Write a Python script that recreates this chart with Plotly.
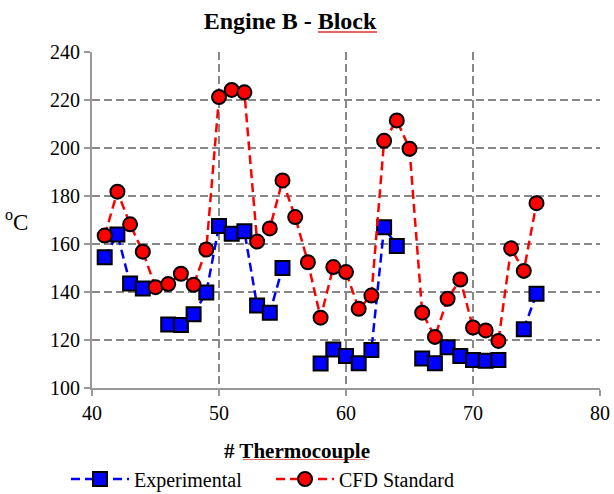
import plotly.graph_objects as go

thermocouple = list(range(41, 76))
experimental = [154.5, 164, 143.5, 141.5, None, 126.5, 126.2, 130.7, 139.8, 167.5,
                164.3, 165.3, 134.4, 131.4, 150, None, None, 110.2, 116, 113.3,
                110.3, 115.8, 167, 159.2, None, 112.3, 110.3, 117, 113.3, 111.7,
                111.4, 111.7, None, 124.5, 139.3]
cfd_standard = [163.5, 181.8, 168.2, 156.8, 142, 143.3, 147.6, 143, 157.7, 221.2,
                224.2, 223.2, 161, 166.5, 186.5, 171.2, 152.4, 129.3, 150.4, 148.3,
                133, 138.5, 203, 211.5, 199.7, 131.4, 121.3, 137.2, 145.2, 125.2,
                124, 119.6, 158.2, 148.8, 177]

serif = "Liberation Serif"

fig = go.Figure()
fig.add_trace(go.Scatter(
    x=thermocouple, y=experimental, name="Experimental", mode="lines+markers",
    connectgaps=False,
    line=dict(color="#0000ff", width=2.5, dash="9px,5px"),
    marker=dict(symbol="square", size=14, color="#0000ff", line=dict(color="black", width=2)),
))
fig.add_trace(go.Scatter(
    x=thermocouple, y=cfd_standard, name="CFD Standard", mode="lines+markers",
    line=dict(color="#ff0000", width=2.5, dash="9px,5px"),
    marker=dict(symbol="circle", size=14, color="#ff0000", line=dict(color="black", width=2)),
))

fig.update_layout(
    width=614, height=494,
    margin=dict(l=92, r=14, t=52, b=106, autoexpand=False),
    paper_bgcolor="white", plot_bgcolor="white",
    font=dict(family=serif, size=18, color="black"),
    title=dict(text="<b>Engine B - Block</b>", x=290/614, xanchor="center", y=0.958, yanchor="middle",
               font=dict(family=serif, size=24, color="black")),
    showlegend=True,
    legend=dict(orientation="h", xref="container", x=66/614, xanchor="left",
                yref="container", y=1 - 479/494, yanchor="middle",
                font=dict(family=serif, size=20), itemwidth=58, tracegroupgap=0,
                entrywidth=132, entrywidthmode="pixels"),
    xaxis=dict(range=[40, 80], dtick=10, showgrid=True, gridcolor="#888888", griddash="8px,4px",
               gridwidth=2, showline=True, linecolor="#999999", linewidth=2, ticks="outside",
               tickcolor="#999999", ticklen=6, tickwidth=2, zeroline=False,
               tickfont=dict(family=serif, size=20)),
    yaxis=dict(range=[100, 240], dtick=20, showgrid=True, gridcolor="#888888", griddash="8px,4px",
               gridwidth=2, showline=True, linecolor="#999999", linewidth=2, ticks="outside",
               tickcolor="#999999", ticklen=6, tickwidth=2, zeroline=False,
               tickfont=dict(family=serif, size=20)),
    annotations=[
        dict(text="<b># Thermocouple</b>", xref="paper", yref="paper", x=(297-92)/508, y=(388-451)/336,
             xanchor="center", yanchor="middle", showarrow=False,
             font=dict(family=serif, size=21)),
        dict(text="<sup>o</sup>C", xref="paper", yref="paper", x=(16-92)/508, y=0.5,
             xanchor="center", yanchor="middle", showarrow=False,
             font=dict(family=serif, size=23)),
    ],
    shapes=[
        dict(type="line", xref="paper", yref="paper", x0=(318-92)/508, x1=(377-92)/508,
             y0=(388-32)/336, y1=(388-32)/336, line=dict(color="#e03030", width=1.5)),
        dict(type="line", xref="paper", yref="paper", x0=(243-92)/508, x1=(365-92)/508,
             y0=(388-460)/336, y1=(388-460)/336, line=dict(color="#e03030", width=1.5)),
    ],
)

fig.write_html("out.html")
